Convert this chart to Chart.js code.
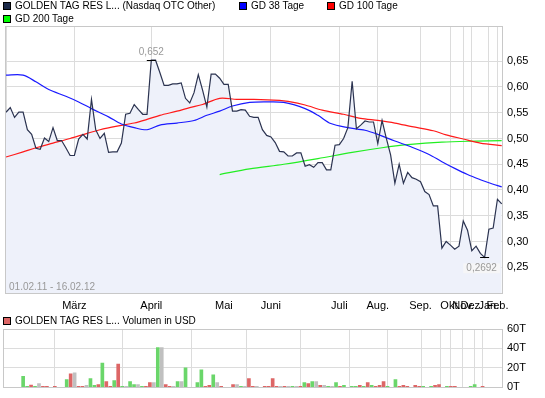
<!DOCTYPE html>
<html>
<head>
<meta charset="utf-8">
<script src="https://cdn.jsdelivr.net/npm/chart.js@4.4.0/dist/chart.umd.min.js"></script>
<style>
  body { margin: 0; background: #fff; width: 545px; height: 398px; overflow: hidden; position: relative; font-family: "Liberation Sans", Arial, sans-serif; }
  .box { position: absolute; width: 6px; height: 6px; border: 1px solid #000; z-index: 2; }
  .lbl { position: absolute; font-size: 10px; line-height: 12px; color: #000; white-space: nowrap; z-index: 2; }
  canvas { position: absolute; left: 0; }
</style>
</head>
<body>
<div class="box" style="left:3px;top:2px;background:#1c2a4a"></div>
<div class="lbl" style="left:15px;top:0px">GOLDEN TAG RES L... (Nasdaq OTC Other)</div>
<div class="box" style="left:239px;top:2px;background:#0000ff"></div>
<div class="lbl" style="left:251px;top:0px">GD 38 Tage</div>
<div class="box" style="left:327px;top:2px;background:#ff0000"></div>
<div class="lbl" style="left:339px;top:0px">GD 100 Tage</div>
<div class="box" style="left:3px;top:15px;background:#00ff00"></div>
<div class="lbl" style="left:15px;top:13px">GD 200 Tage</div>
<div class="box" style="left:3px;top:317px;background:#dd6666"></div>
<div class="lbl" style="left:15px;top:315px">GOLDEN TAG RES L... Volumen in USD</div>

<canvas id="kurs" width="545" height="315" style="top:0"></canvas>
<canvas id="volumen" width="545" height="83" style="top:315px"></canvas>

<script>
// Schlusskurse je Handelstag (01.02.11 - 16.02.12)
const kurs = [
  0.551, 0.560, 0.541, 0.551, 0.551, 0.517, 0.508, 0.481, 0.479, 0.501,
  0.494, 0.521, 0.496, 0.496, 0.482, 0.467, 0.467, 0.499, 0.508, 0.499,
  0.576, 0.517, 0.500, 0.510, 0.473, 0.474, 0.474, 0.491, 0.547, 0.549,
  0.566, 0.556, 0.547, 0.547, 0.652, 0.652, 0.628, 0.603, 0.603, 0.606,
  0.606, 0.608, 0.578, 0.569, 0.589, 0.624, 0.594, 0.561, 0.625, 0.625,
  0.617, 0.605, 0.605, 0.553, 0.553, 0.556, 0.555, 0.543, 0.541, 0.541,
  0.517, 0.506, 0.503, 0.492, 0.475, 0.474, 0.466, 0.466, 0.472, 0.472,
  0.446, 0.449, 0.444, 0.453, 0.453, 0.439, 0.439, 0.487, 0.488, 0.500,
  0.521, 0.611, 0.519, 0.526, 0.534, 0.532, 0.532, 0.490, 0.535, 0.500,
  0.468, 0.413, 0.450, 0.413, 0.434, 0.424, 0.421, 0.416, 0.397, 0.391,
  0.369, 0.369, 0.287, 0.300, 0.293, 0.285, 0.291, 0.340, 0.322, 0.282,
  0.291, 0.277, 0.2692, 0.324, 0.326, 0.382, 0.373
];

// gleitende Durchschnitte [Handelstag, Wert]
const gd38 = [[0,0.623],[4,0.623],[7,0.610],[10,0.595],[14,0.582],[17,0.571],[20,0.558],[24,0.542],[27,0.528],[30,0.521],[33,0.517],[36,0.526],[40,0.530],[44,0.535],[47,0.545],[50,0.553],[53,0.563],[57,0.570],[61,0.571],[65,0.570],[70,0.558],[73,0.545],[76,0.529],[80,0.521],[84,0.516],[87,0.508],[91,0.495],[95,0.483],[99,0.469],[102,0.455],[105,0.442],[108,0.430],[111,0.420],[113,0.414],[116,0.406]];
const gd100 = [[0,0.464],[4,0.474],[7,0.482],[11,0.491],[15,0.500],[19,0.510],[22,0.517],[26,0.524],[30,0.530],[33,0.537],[36,0.545],[40,0.553],[43,0.560],[46,0.566],[50,0.578],[54,0.576],[58,0.576],[64,0.574],[66,0.572],[70,0.565],[74,0.555],[79,0.547],[83,0.539],[87,0.535],[91,0.530],[95,0.523],[100,0.515],[103,0.507],[107,0.499],[111,0.491],[116,0.486]];
const gd200 = [[50,0.430],[57,0.441],[65,0.450],[73,0.461],[81,0.473],[88,0.482],[94,0.488],[102,0.493],[110,0.495],[116,0.496]];

// Volumen in Tausend USD, Richtung g = steigend, r = fallend, n = unverändert
const volumen = [
  11.3, 1.2, 2.3, 1.2, 4, 1.2, 1.2, 0, 1.2, 0,
  0, 8, 14, 15, 1.2, 1.2, 2, 9, 2, 3,
  25, 6, 1.2, 7, 24, 1.2, 1.2, 6, 3, 3,
  1.2, 1.2, 5, 5, 41, 41, 3, 1.2, 1.2, 6,
  6, 20, 0, 0, 5, 18, 1.2, 2, 13, 5,
  1.2, 0, 0, 3, 3, 1.2, 1.2, 9, 1.2, 1.2,
  0, 1.2, 1.2, 9, 1.2, 1.2, 1.2, 1.2, 1.2, 1.2,
  1.2, 5, 4, 6, 6, 2, 2, 1.2, 1.2, 5,
  1.2, 2, 0, 1.2, 1.2, 2, 1.2, 5, 2, 1.2,
  2, 6, 1.2, 0, 8, 1.2, 2, 1.2, 0, 2,
  1.2, 1.2, 0, 1.2, 2, 3, 0, 1.2, 1.2, 1.2,
  0, 0, 0, 1.2, 3, 0, 1.2
];
const richtung = ('ggrgnrr-r-' + '-grnrrnggr' + 'grrgrgnggn' + 'grrngnrrng' + 'ng--ggrrgn' +
  'r--rngnrrn' + '-rrrrnrngn' + 'rgrgnrngng' + 'rg-ggrgrgr' + 'rrg-grrr-r' +
  'rg-grr-grr' + '---gg-r').split('');

// erster Handelstag jedes Monats
const monatsIdx = [16, 34, 51, 62, 78, 87, 97, 104, 107, 109, 113, 115];
const monate = ['März', 'April', 'Mai', 'Juni', 'Juli', 'Aug.', 'Sep.', 'Okt.', 'Nov.', 'Dez.', 'Jan.', 'Feb.'];
const kursTicks = [0.25, 0.30, 0.35, 0.40, 0.45, 0.50, 0.55, 0.60, 0.65];
const volTicks = [0, 20, 40, 60];
const zeitraum = '01.02.11 - 16.02.12';

const schrift = '"Liberation Sans", Arial, sans-serif';
const gitter = '#dcdcdc';
const komma = v => String(v).replace('.', ',');

function xAchse(mitText, hoehe) {
  return {
    type: 'linear',
    min: -0.23,
    max: 116.3,
    afterBuildTicks: ax => { ax.ticks = [0, ...monatsIdx].map(v => ({ value: v })); },
    afterFit: ax => { ax.height = hoehe; },
    grid: { color: gitter, drawTicks: false },
    border: { display: false },
    ticks: {
      display: mitText,
      autoSkip: false,
      maxRotation: 0,
      padding: 6,
      color: '#000',
      font: { family: schrift, size: 11 },
      callback: (v, i) => ['', ...monate][i]
    }
  };
}

const rahmen = {
  id: 'rahmen',
  afterDraw(chart) {
    const a = chart.chartArea, ctx = chart.ctx;
    ctx.save();
    ctx.strokeStyle = '#c8c8c8';
    ctx.lineWidth = 1;
    ctx.strokeRect(Math.round(a.left) + 0.5, Math.round(a.top) + 0.5, Math.round(a.right - a.left) - 1, Math.round(a.bottom - a.top));
    ctx.restore();
  }
};

const extrema = {
  id: 'extrema',
  afterDatasetsDraw(chart) {
    const { ctx, scales: { x, y } } = chart;
    const hoch = Math.max(...kurs), tief = Math.min(...kurs);
    const iH = kurs.indexOf(hoch), iT = kurs.indexOf(tief);
    ctx.save();
    ctx.strokeStyle = '#000';
    ctx.lineWidth = 1;
    [[iH, hoch], [iT, tief]].forEach(([i, v]) => {
      const px = x.getPixelForValue(i), py = Math.round(y.getPixelForValue(v)) + 0.5;
      ctx.beginPath(); ctx.moveTo(px - 4.5, py); ctx.lineTo(px + 4.5, py); ctx.stroke();
    });
    ctx.font = '10px ' + schrift;
    ctx.textAlign = 'center';
    ctx.textBaseline = 'middle';
    ctx.fillStyle = '#999';
    ctx.fillText(komma(hoch), x.getPixelForValue(iH), y.getPixelForValue(hoch) - 8);
    const t = komma(tief), w = ctx.measureText(t).width + 6;
    const lx = x.getPixelForValue(iT) - 3, ly = y.getPixelForValue(tief) + 11;
    ctx.fillStyle = 'rgba(246,246,246,0.92)';
    ctx.fillRect(lx - w / 2, ly - 5, w, 10);
    ctx.fillStyle = '#999';
    ctx.fillText(t, lx, ly);
    ctx.textAlign = 'left';
    ctx.fillText(zeitraum, chart.chartArea.left + 4, chart.chartArea.bottom - 6);
    ctx.restore();
  }
};

const linie = (daten, farbe) => ({
  data: daten.map(([i, v]) => ({ x: i, y: v })),
  borderColor: farbe,
  borderWidth: 1.2,
  pointRadius: 0,
  fill: false,
  tension: 0.3
});

new Chart(document.getElementById('kurs'), {
  type: 'line',
  data: {
    datasets: [
      {
        data: kurs.map((v, i) => ({ x: i, y: v })),
        borderColor: '#2b3350',
        borderWidth: 1.2,
        backgroundColor: '#eef1fa',
        fill: 'start',
        pointRadius: 0,
        tension: 0,
        order: 0
      },
      Object.assign(linie(gd38, '#1a1aff'), { order: 1 }),
      Object.assign(linie(gd100, '#ff1a1a'), { order: 2 }),
      Object.assign(linie(gd200, '#22ee22'), { order: 3 })
    ]
  },
  options: {
    responsive: false,
    animation: false,
    layout: { padding: { top: 26, left: 3, right: 0, bottom: 0 } },
    plugins: {
      legend: { display: false },
      tooltip: { enabled: false },
      filler: { drawTime: 'beforeDatasetsDraw' }
    },
    scales: {
      x: xAchse(true, 22),
      y: {
        position: 'right',
        min: 0.2,
        max: 0.7184,
        afterBuildTicks: ax => { ax.ticks = kursTicks.map(v => ({ value: v })); },
        afterFit: ax => { ax.width = 42; },
        grid: { color: gitter, drawTicks: false },
        border: { display: false },
        ticks: {
          padding: 4,
          color: '#000',
          font: { family: schrift, size: 11 },
          callback: v => v.toFixed(2).replace('.', ',')
        }
      }
    }
  },
  plugins: [rahmen, extrema]
});

const farben = { g: '#6ad66a', r: '#dd6666', n: '#c0c0c0', '-': '#c0c0c0' };

new Chart(document.getElementById('volumen'), {
  type: 'bar',
  data: {
    datasets: [{
      data: volumen.map((v, i) => ({ x: i, y: v })),
      backgroundColor: richtung.map(r => farben[r]),
      barThickness: 3
    }]
  },
  options: {
    responsive: false,
    animation: false,
    layout: { padding: { top: 14, left: 3, right: 0, bottom: 0 } },
    plugins: { legend: { display: false }, tooltip: { enabled: false } },
    scales: {
      x: xAchse(false, 9),
      y: {
        position: 'right',
        min: 0,
        max: 60,
        afterBuildTicks: ax => { ax.ticks = volTicks.map(v => ({ value: v })); },
        afterFit: ax => { ax.width = 42; },
        grid: { color: gitter, drawTicks: false },
        border: { display: false },
        ticks: {
          padding: 4,
          color: '#000',
          font: { family: schrift, size: 11 },
          callback: v => v + 'T'
        }
      }
    }
  },
  plugins: [rahmen]
});
</script>
</body>
</html>
